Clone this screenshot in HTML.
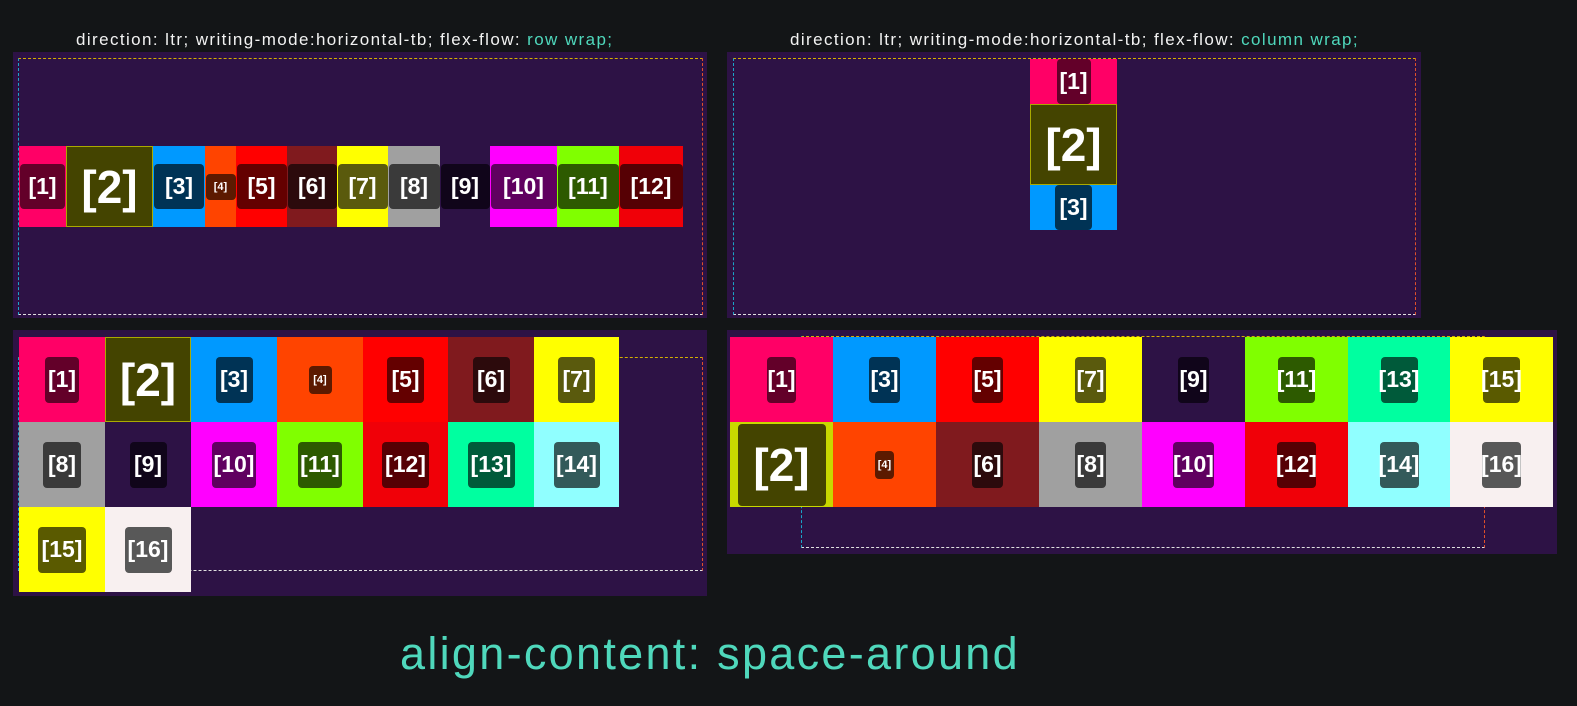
<!DOCTYPE html>
<html><head><meta charset="utf-8"><style>
*{margin:0;padding:0;box-sizing:border-box}
body{width:1577px;height:706px;background:#131517;position:relative;overflow:hidden;font-family:"Liberation Sans",sans-serif}
.p{position:absolute;background:#2d1245}
.d{position:absolute;border:1px dashed #e0e0e0;border-top-color:#d4b000;border-left-color:#1aa6c8;border-right-color:#e0502a}
.c{position:absolute;display:flex;align-items:center;justify-content:center}
.b{color:#fff;border-radius:4px;font-size:23px;font-weight:bold;display:flex;align-items:center;justify-content:center}
.t{position:absolute;color:#f2f2f2;font-size:17px;letter-spacing:1.4px;white-space:nowrap}
.t span{color:#4fd8bc}
</style></head><body>
<div class="t" style="left:76px;top:30px">direction: ltr; writing-mode:horizontal-tb; flex-flow: <span>row wrap;</span></div>
<div class="t" style="left:790px;top:30px">direction: ltr; writing-mode:horizontal-tb; flex-flow: <span>column wrap;</span></div>

<!-- Panel 1 -->
<div class="p" style="left:13px;top:52px;width:694px;height:266px"></div>
<div class="d" style="left:18px;top:58px;width:685px;height:257px"></div>
<div class="c" style="left:19px;top:146px;width:47px;height:81px;background:#ff0066"><div class="b" style="width:45px;height:45px;background:#630029">[1]</div></div>
<div class="c" style="left:66px;top:146px;width:87px;height:81px;background:#444400;border:1px solid #aaaa00"><div class="b" style="font-size:46px">[2]</div></div>
<div class="c" style="left:153px;top:146px;width:52px;height:81px;background:#0099ff"><div class="b" style="width:50px;height:45px;background:#003355">[3]</div></div>
<div class="c" style="left:205px;top:146px;width:31px;height:81px;background:#ff4400"><div class="b" style="width:30px;height:26px;background:#5c1a00;font-size:11px">[4]</div></div>
<div class="c" style="left:236px;top:146px;width:51px;height:81px;background:#ff0000"><div class="b" style="width:50px;height:45px;background:#640000">[5]</div></div>
<div class="c" style="left:287px;top:146px;width:50px;height:81px;background:#801a1e"><div class="b" style="width:49px;height:45px;background:#2c0a0c">[6]</div></div>
<div class="c" style="left:337px;top:146px;width:51px;height:81px;background:#ffff00"><div class="b" style="width:50px;height:45px;background:#5a5a0d">[7]</div></div>
<div class="c" style="left:388px;top:146px;width:52px;height:81px;background:#a0a0a0"><div class="b" style="width:51px;height:45px;background:#3a3a3a">[8]</div></div>
<div class="c" style="left:440px;top:146px;width:50px;height:81px;background:#2d1245"><div class="b" style="width:49px;height:45px;background:#10051a">[9]</div></div>
<div class="c" style="left:490px;top:146px;width:67px;height:81px;background:#ff00ff"><div class="b" style="width:66px;height:45px;background:#600060">[10]</div></div>
<div class="c" style="left:557px;top:146px;width:62px;height:81px;background:#80ff00"><div class="b" style="width:61px;height:45px;background:#2d5a00">[11]</div></div>
<div class="c" style="left:619px;top:146px;width:64px;height:81px;background:#f00008"><div class="b" style="width:63px;height:45px;background:#560004">[12]</div></div>

<!-- Panel 2 -->
<div class="p" style="left:727px;top:52px;width:694px;height:266px"></div>
<div class="d" style="left:733px;top:58px;width:683px;height:257px"></div>
<div class="c" style="left:1030px;top:59px;width:87px;height:45px;background:#ff0066"><div class="b" style="width:34px;height:45px;background:#630029">[1]</div></div>
<div class="c" style="left:1030px;top:104px;width:87px;height:81px;background:#444400;border:1px solid #aaaa00"><div class="b" style="font-size:46px">[2]</div></div>
<div class="c" style="left:1030px;top:185px;width:87px;height:45px;background:#0099ff"><div class="b" style="width:37px;height:45px;background:#003355">[3]</div></div>

<!-- Panel 3 -->
<div class="p" style="left:13px;top:330px;width:694px;height:266px"></div>
<div class="d" style="left:18px;top:357px;width:685px;height:214px"></div>
<div class="c" style="left:19px;top:337px;width:86px;height:85px;background:#ff0066"><div class="b" style="width:34px;height:46px;background:#630029">[1]</div></div>
<div class="c" style="left:105px;top:337px;width:86px;height:85px;background:#444400;border:1px solid #aaaa00"><div class="b" style="font-size:46px">[2]</div></div>
<div class="c" style="left:191px;top:337px;width:86px;height:85px;background:#0099ff"><div class="b" style="width:37px;height:46px;background:#003355">[3]</div></div>
<div class="c" style="left:277px;top:337px;width:86px;height:85px;background:#ff4400"><div class="b" style="width:23px;height:28px;background:#5c1a00;font-size:11px">[4]</div></div>
<div class="c" style="left:363px;top:337px;width:85px;height:85px;background:#ff0000"><div class="b" style="width:37px;height:46px;background:#640000">[5]</div></div>
<div class="c" style="left:448px;top:337px;width:86px;height:85px;background:#801a1e"><div class="b" style="width:37px;height:46px;background:#2c0a0c">[6]</div></div>
<div class="c" style="left:534px;top:337px;width:85px;height:85px;background:#ffff00"><div class="b" style="width:37px;height:46px;background:#5a5a0d">[7]</div></div>
<div class="c" style="left:19px;top:422px;width:86px;height:85px;background:#a0a0a0"><div class="b" style="width:38px;height:46px;background:#3a3a3a">[8]</div></div>
<div class="c" style="left:105px;top:422px;width:86px;height:85px;background:#2d1245"><div class="b" style="width:37px;height:46px;background:#10051a">[9]</div></div>
<div class="c" style="left:191px;top:422px;width:86px;height:85px;background:#ff00ff"><div class="b" style="width:44px;height:46px;background:#600060">[10]</div></div>
<div class="c" style="left:277px;top:422px;width:86px;height:85px;background:#80ff00"><div class="b" style="width:44px;height:46px;background:#2d5a00">[11]</div></div>
<div class="c" style="left:363px;top:422px;width:85px;height:85px;background:#f00008"><div class="b" style="width:47px;height:46px;background:#560004">[12]</div></div>
<div class="c" style="left:448px;top:422px;width:86px;height:85px;background:#00ffa0"><div class="b" style="width:47px;height:46px;background:#005a3a">[13]</div></div>
<div class="c" style="left:534px;top:422px;width:85px;height:85px;background:#90ffff"><div class="b" style="width:46px;height:46px;background:#335a5a">[14]</div></div>
<div class="c" style="left:19px;top:507px;width:86px;height:85px;background:#ffff00"><div class="b" style="width:48px;height:46px;background:#5a5a00">[15]</div></div>
<div class="c" style="left:105px;top:507px;width:86px;height:85px;background:#f8f0f0"><div class="b" style="width:47px;height:46px;background:#585858">[16]</div></div>

<!-- Panel 4 -->
<div class="p" style="left:727px;top:330px;width:830px;height:224px"></div>
<div class="d" style="left:801px;top:336px;width:684px;height:212px"></div>
<div class="c" style="left:730px;top:337px;width:103px;height:85px;background:#ff0066"><div class="b" style="width:29px;height:46px;background:#630029">[1]</div></div>
<div class="c" style="left:833px;top:337px;width:103px;height:85px;background:#0099ff"><div class="b" style="width:31px;height:46px;background:#003355">[3]</div></div>
<div class="c" style="left:936px;top:337px;width:103px;height:85px;background:#ff0000"><div class="b" style="width:31px;height:46px;background:#640000">[5]</div></div>
<div class="c" style="left:1039px;top:337px;width:103px;height:85px;background:#ffff00"><div class="b" style="width:31px;height:46px;background:#5a5a0d">[7]</div></div>
<div class="c" style="left:1142px;top:337px;width:103px;height:85px;background:#2d1245"><div class="b" style="width:31px;height:46px;background:#10051a">[9]</div></div>
<div class="c" style="left:1245px;top:337px;width:103px;height:85px;background:#80ff00"><div class="b" style="width:37px;height:46px;background:#2d5a00">[11]</div></div>
<div class="c" style="left:1348px;top:337px;width:102px;height:85px;background:#00ffa0"><div class="b" style="width:37px;height:46px;background:#005a3a">[13]</div></div>
<div class="c" style="left:1450px;top:337px;width:103px;height:85px;background:#ffff00"><div class="b" style="width:37px;height:46px;background:#5a5a00">[15]</div></div>
<div class="c" style="left:730px;top:422px;width:103px;height:85px;background:#c8d800"><div class="b" style="width:88px;height:82px;background:#444400;font-size:46px">[2]</div></div>
<div class="c" style="left:833px;top:422px;width:103px;height:85px;background:#ff4400"><div class="b" style="width:19px;height:28px;background:#5c1a00;font-size:11px">[4]</div></div>
<div class="c" style="left:936px;top:422px;width:103px;height:85px;background:#801a1e"><div class="b" style="width:31px;height:46px;background:#2c0a0c">[6]</div></div>
<div class="c" style="left:1039px;top:422px;width:103px;height:85px;background:#a0a0a0"><div class="b" style="width:31px;height:46px;background:#3a3a3a">[8]</div></div>
<div class="c" style="left:1142px;top:422px;width:103px;height:85px;background:#ff00ff"><div class="b" style="width:41px;height:46px;background:#600060">[10]</div></div>
<div class="c" style="left:1245px;top:422px;width:103px;height:85px;background:#f00008"><div class="b" style="width:39px;height:46px;background:#560004">[12]</div></div>
<div class="c" style="left:1348px;top:422px;width:102px;height:85px;background:#90ffff"><div class="b" style="width:39px;height:46px;background:#335a5a">[14]</div></div>
<div class="c" style="left:1450px;top:422px;width:103px;height:85px;background:#f8f0f0"><div class="b" style="width:39px;height:46px;background:#585858">[16]</div></div>

<div style="position:absolute;left:400px;top:628px;width:640px;font-size:45px;color:#4fd8bc;white-space:nowrap;letter-spacing:2.3px">align-content: space-around</div>
</body></html>
